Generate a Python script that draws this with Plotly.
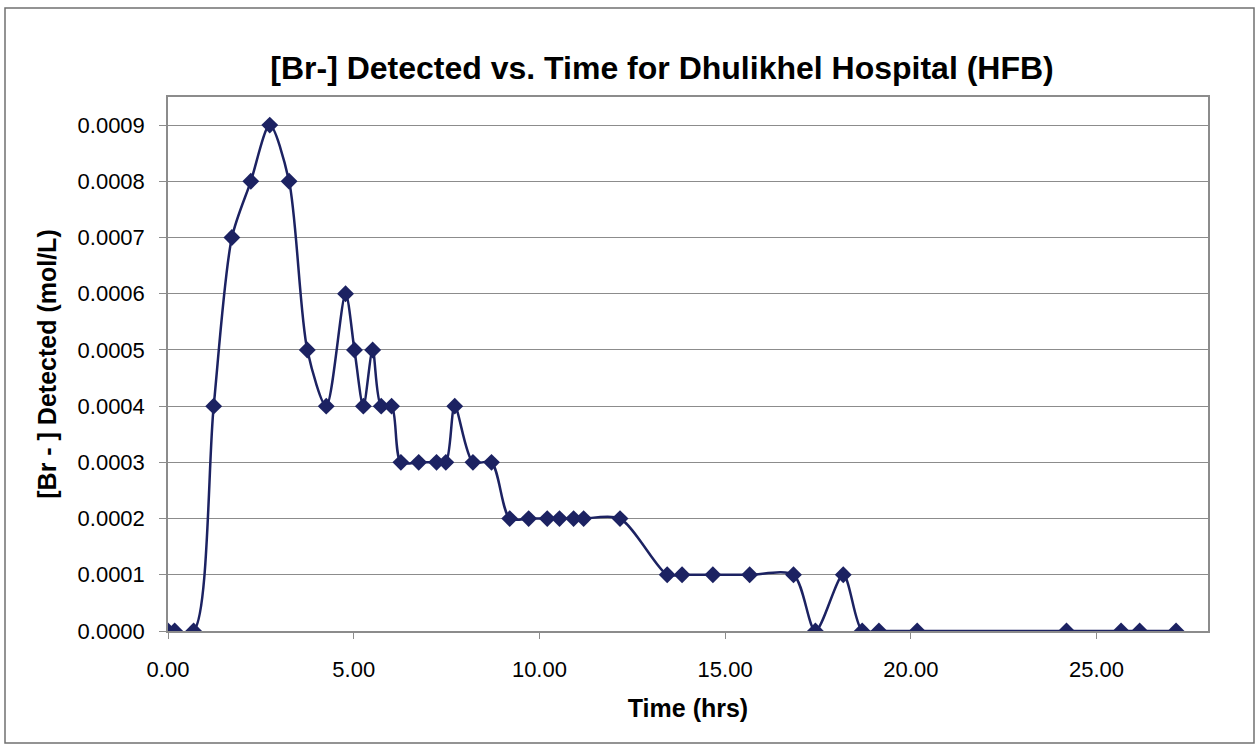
import plotly.graph_objects as go

time_hrs = [0.00, 0.18, 0.69, 1.23, 1.72, 2.23, 2.74, 3.26, 3.75, 4.26, 4.78, 5.02,
            5.26, 5.51, 5.74, 6.02, 6.27, 6.75, 7.23, 7.48, 7.72, 8.21, 8.71, 9.20,
            9.71, 10.21, 10.54, 10.92, 11.19, 12.17, 13.44, 13.84, 14.67, 15.66,
            16.84, 17.43, 18.18, 18.69, 19.14, 20.17, 24.19, 25.66, 26.16, 27.14]
br_detected = [0.0, 0.0, 0.0, 0.0004, 0.0007, 0.0008, 0.0009, 0.0008, 0.0005, 0.0004,
               0.0006, 0.0005, 0.0004, 0.0005, 0.0004, 0.0004, 0.0003, 0.0003, 0.0003,
               0.0003, 0.0004, 0.0003, 0.0003, 0.0002, 0.0002, 0.0002, 0.0002, 0.0002,
               0.0002, 0.0002, 0.0001, 0.0001, 0.0001, 0.0001, 0.0001, 0.0, 0.0001,
               0.0, 0.0, 0.0, 0.0, 0.0, 0.0, 0.0]
x_ticks = [0, 5, 10, 15, 20, 25]
y_ticks = [0.0, 0.0001, 0.0002, 0.0003, 0.0004, 0.0005, 0.0006, 0.0007, 0.0008, 0.0009]

navy = "#1c2262"
grid = "#8c8c8c"

fig = go.Figure()
fig.add_trace(go.Scatter(
    x=time_hrs, y=br_detected, mode="lines+markers",
    line=dict(color=navy, width=2.5, shape="spline", smoothing=0.8),
    marker=dict(symbol="diamond", size=13, color=navy),
    showlegend=False,
))

W, H = 1256, 745
L, R, T, B = 168, 1208, 97, 631
pw, ph = R - L, B - T

def px(x):
    return (x - L) / pw

def py(y):
    return (B - y) / ph

fig.update_layout(
    width=W, height=H,
    margin=dict(l=L, r=W - R, t=T, b=H - B),
    paper_bgcolor="white", plot_bgcolor="white",
    font=dict(family="Liberation Sans, Arial, sans-serif", color="black"),
    title=dict(text="<b>[Br-] Detected vs. Time for Dhulikhel Hospital (HFB)</b>",
               x=(662 - L) / pw, xref="paper", xanchor="center",
               y=1 - 68 / H, yanchor="middle", font=dict(size=32, color="black")),
    xaxis=dict(range=[0, 28], tickvals=x_ticks,
               ticktext=[f"{v:.2f}" for v in x_ticks],
               showgrid=False, zeroline=False, showline=True, mirror=True,
               linecolor=grid, linewidth=1.5, ticks="outside", ticklen=6,
               tickcolor=grid, tickfont=dict(size=22), ticklabelstandoff=12,
               title=dict(text="<b>Time (hrs)</b>", font=dict(size=25), standoff=18)),
    yaxis=dict(range=[0, 0.00095], tickvals=y_ticks,
               ticktext=[f"{v:.4f}" for v in y_ticks],
               showgrid=True, gridcolor=grid, gridwidth=1, zeroline=False,
               showline=True, mirror=True, linecolor=grid, linewidth=1.5,
               ticks="outside", ticklen=7, tickcolor=grid, tickfont=dict(size=22),
               ticklabelstandoff=10,
               title=dict(text="<b>[Br - ] Detected (mol/L)</b>", font=dict(size=25),
                          standoff=14)),
    shapes=[dict(type="rect", xref="paper", yref="paper",
                 x0=px(5), x1=px(1254), y0=py(743), y1=py(8),
                 line=dict(color="#707070", width=1.5), fillcolor="rgba(0,0,0,0)",
                 layer="below")],
)

fig.write_html("out.html", config={"displayModeBar": False},
               post_script="document.body.style.margin='0px';")
